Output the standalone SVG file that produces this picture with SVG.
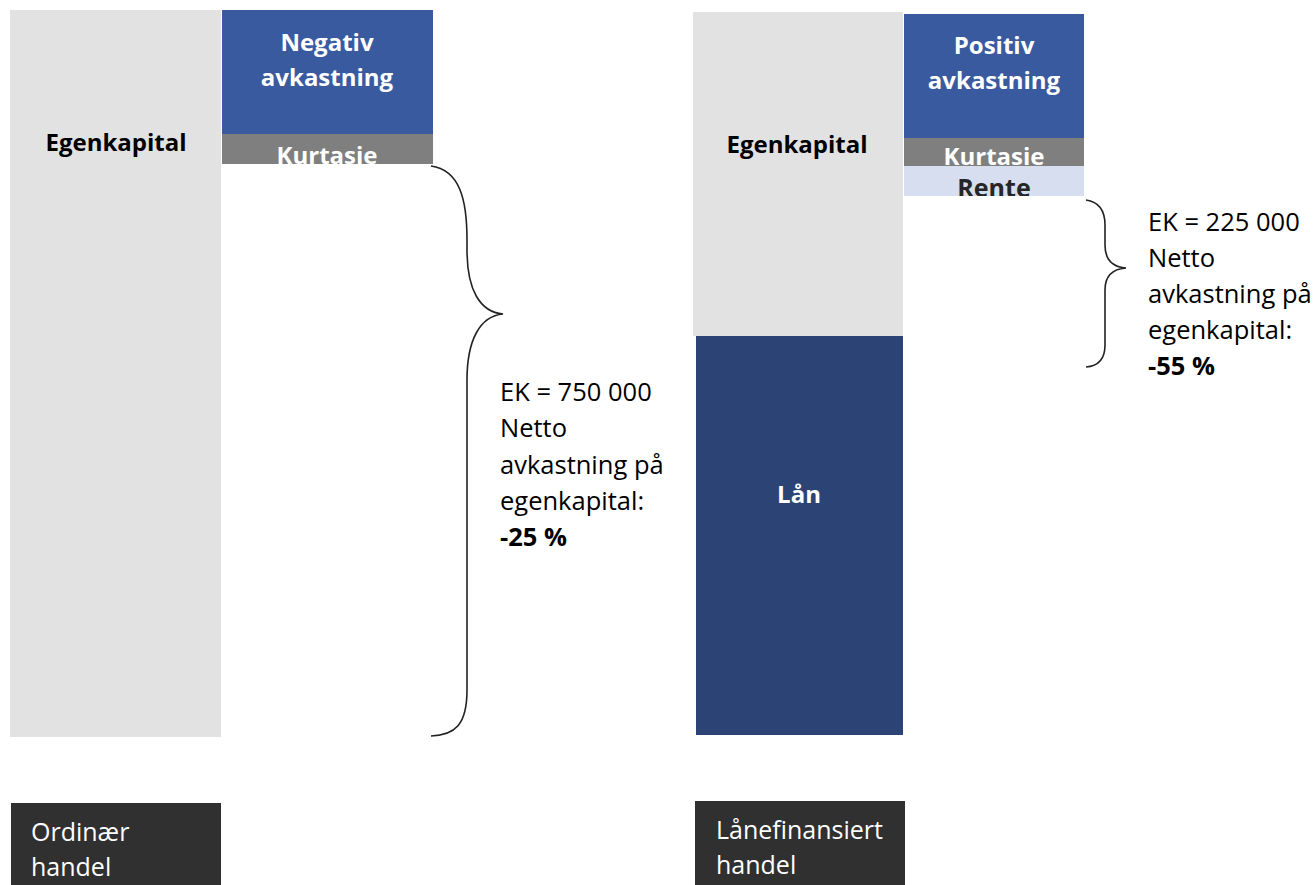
<svg xmlns="http://www.w3.org/2000/svg" width="1316" height="885" viewBox="0 0 1316 885">
<defs>
<style>
.t{font-family:"Open Sans","Liberation Sans",sans-serif;font-size:24px}
.n{font-size:25.5px}
.l{font-size:25px}
.b{font-weight:bold}
.w{fill:#ffffff}
.k{fill:#000000}
.c{text-anchor:middle}
.brace{fill:none;stroke:#222;stroke-width:1.6}
</style>
<clipPath id="ck1"><rect x="222" y="134" width="211" height="30"/></clipPath>
<clipPath id="ck2"><rect x="904" y="138" width="180" height="28"/></clipPath>
<clipPath id="cr2"><rect x="904" y="166" width="180" height="30"/></clipPath>
</defs>
<rect width="1316" height="885" fill="#ffffff"/>
<g id="ek-left"><rect x="10" y="10" width="211" height="727" fill="#e2e2e2"/><text class="t b k c" x="116" y="151">Egenkapital</text></g>
<g id="neg"><rect x="222" y="10" width="211" height="124" fill="#3a5aa0"/><text class="t b w c" x="327" y="51">Negativ</text><text class="t b w c" x="327" y="86">avkastning</text></g>
<g id="kurt-left"><rect x="222" y="134" width="211" height="30" fill="#7f7f7f"/><text class="t b w c" x="327" y="164" clip-path="url(#ck1)">Kurtasie</text></g>
<g id="ek-right"><rect x="693" y="12" width="210" height="324" fill="#e2e2e2"/><text class="t b k c" x="797" y="153">Egenkapital</text></g>
<g id="lan"><rect x="696" y="336" width="207" height="399" fill="#2c4475"/><text class="t b w c" x="799" y="503">Lån</text></g>
<g id="pos"><rect x="904" y="14" width="180" height="124" fill="#3a5aa0"/><text class="t b w c" x="994" y="54">Positiv</text><text class="t b w c" x="994" y="89">avkastning</text></g>
<g id="kurt-right"><rect x="904" y="138" width="180" height="28" fill="#7f7f7f"/><text class="t b w c" x="994" y="165" clip-path="url(#ck2)">Kurtasie</text></g>
<g id="rente"><rect x="904" y="166" width="180" height="30" fill="#d6deef"/><text class="t l b c" fill="#262626" x="994" y="197" clip-path="url(#cr2)">Rente</text></g>
<g id="connectors">
<path class="brace" d="M431,166 C460,170 467,200 467,240 L467,250 C467,290 480,312 503,314 C480,316 467,340 467,380 L467,690 C467,725 455,735 431,736"/>
<path class="brace" d="M1086,200 C1100,202 1105,212 1105,225 L1105,245 C1105,260 1112,267 1126,268 C1112,269 1105,276 1105,290 L1105,345 C1105,358 1100,366 1086,367"/>
</g>
<g id="note-left"><text class="t n k" x="500" y="401">EK = 750 000</text><text class="t n k" x="500" y="437">Netto</text><text class="t n k" x="500" y="474">avkastning på</text><text class="t n k" x="500" y="510">egenkapital:</text><text class="t n b k" x="500" y="546">-25 %</text></g>
<g id="note-right"><text class="t n k" x="1148" y="231">EK = 225 000</text><text class="t n k" x="1148" y="267">Netto</text><text class="t n k" x="1148" y="303">avkastning på</text><text class="t n k" x="1148" y="339">egenkapital:</text><text class="t n b k" x="1148" y="375">-55 %</text></g>
<g id="lbl-left"><rect x="11" y="803" width="210" height="82" fill="#303030"/><text class="t l w" x="31" y="841">Ordinær</text><text class="t l w" x="31" y="876">handel</text></g>
<g id="lbl-right"><rect x="695" y="801" width="210" height="84" fill="#303030"/><text class="t l w" x="716" y="839">Lånefinansiert</text><text class="t l w" x="716" y="874">handel</text></g>
</svg>
